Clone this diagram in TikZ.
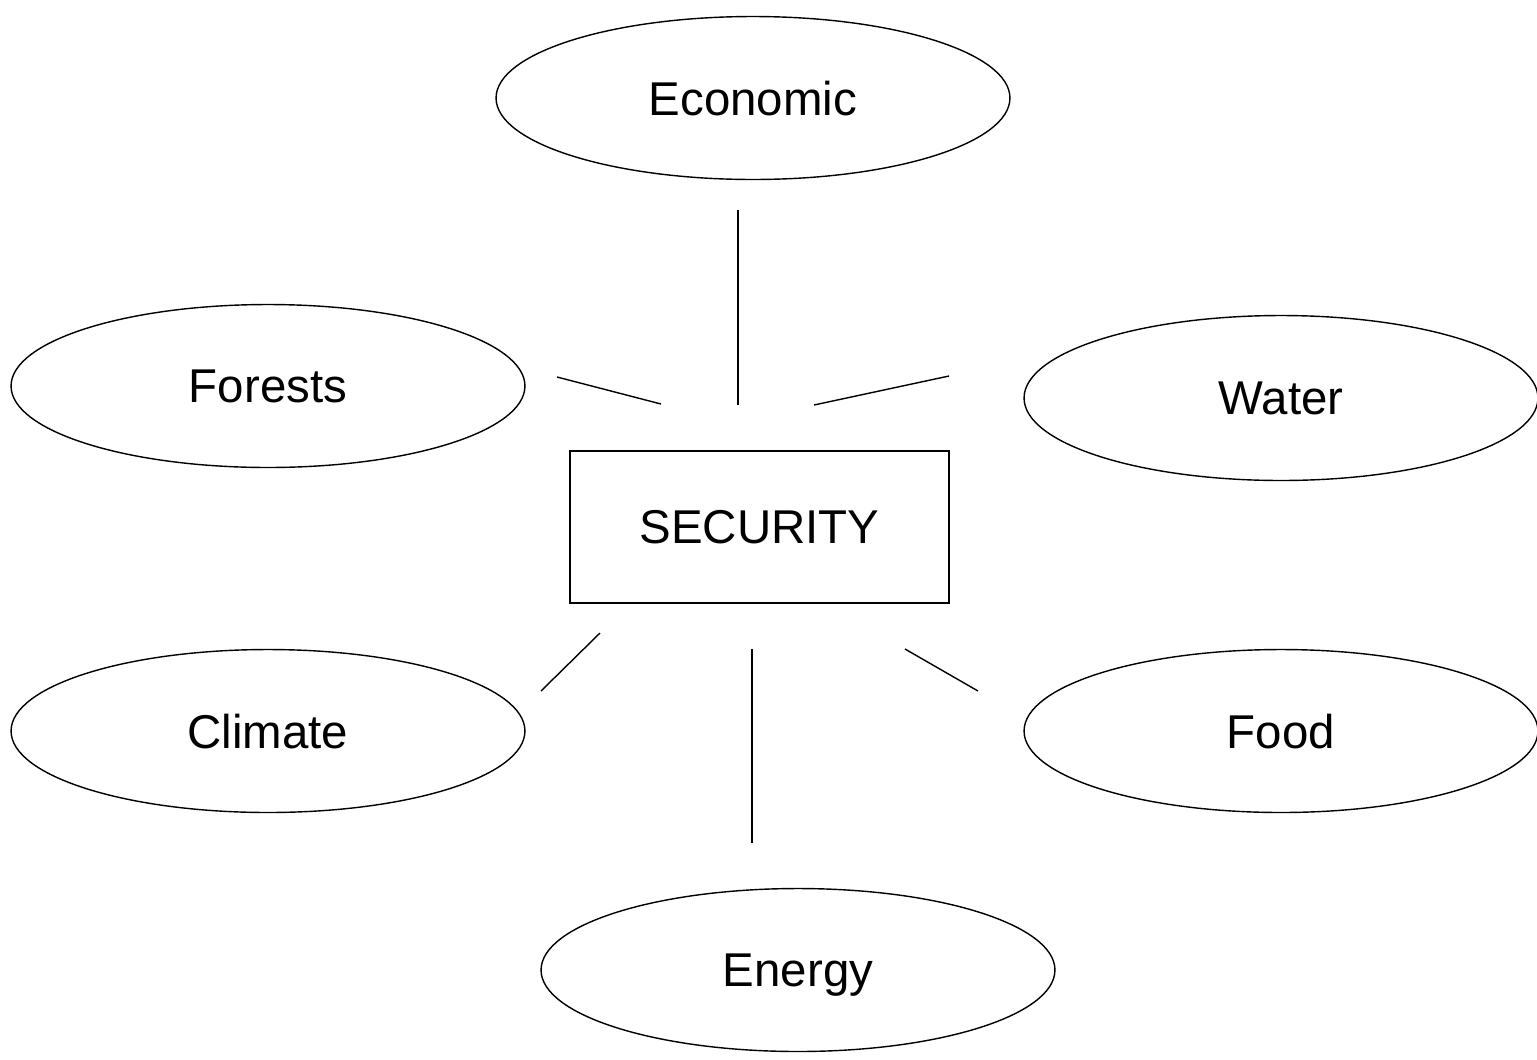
\documentclass[tikz,border=0pt]{standalone}
\usepackage{fontspec}
\setmainfont{Liberation Sans}
\usetikzlibrary{shapes.geometric}
\begin{document}
\begin{tikzpicture}[x=0.02cm,y=-0.02cm,
  oval/.style={draw,ellipse,line width=0.8pt,minimum width=10.28cm,minimum height=3.26cm,inner sep=0pt,text depth=0pt,font=\fontsize{27}{32}\selectfont},
  box/.style={draw,rectangle,line width=0.8pt,minimum width=7.58cm,minimum height=3.04cm,inner sep=0pt,font=\fontsize{27}{32}\selectfont},
  link/.style={line width=0.8pt}]
\useasboundingbox (0,0) rectangle (1537,1059);
\node[oval] (econ) at (753,98) {Economic};
\node[oval] (forests) at (268,386) {Forests};
\node[oval,minimum height=3.3cm] (water) at (1281,398) {Water};
\node[oval] (climate) at (268,731) {Climate};
\node[oval] (food) at (1281,731) {Food};
\node[oval] (energy) at (798,970) {Energy};
\node[box] (sec) at (759.5,527) {SECURITY};
\coordinate (a1) at (738,210); \coordinate (a2) at (738,405);
\coordinate (b1) at (557,377); \coordinate (b2) at (661,404);
\coordinate (c1) at (814,405); \coordinate (c2) at (949,376);
\coordinate (d1) at (541,691); \coordinate (d2) at (600,633);
\coordinate (e1) at (752,649); \coordinate (e2) at (752,843);
\coordinate (f1) at (905,649); \coordinate (f2) at (978,691);
\draw[link] (a1) -- (a2);
\draw[link] (b1) -- (b2);
\draw[link] (c1) -- (c2);
\draw[link] (d1) -- (d2);
\draw[link] (e1) -- (e2);
\draw[link] (f1) -- (f2);
\end{tikzpicture}
\end{document}
